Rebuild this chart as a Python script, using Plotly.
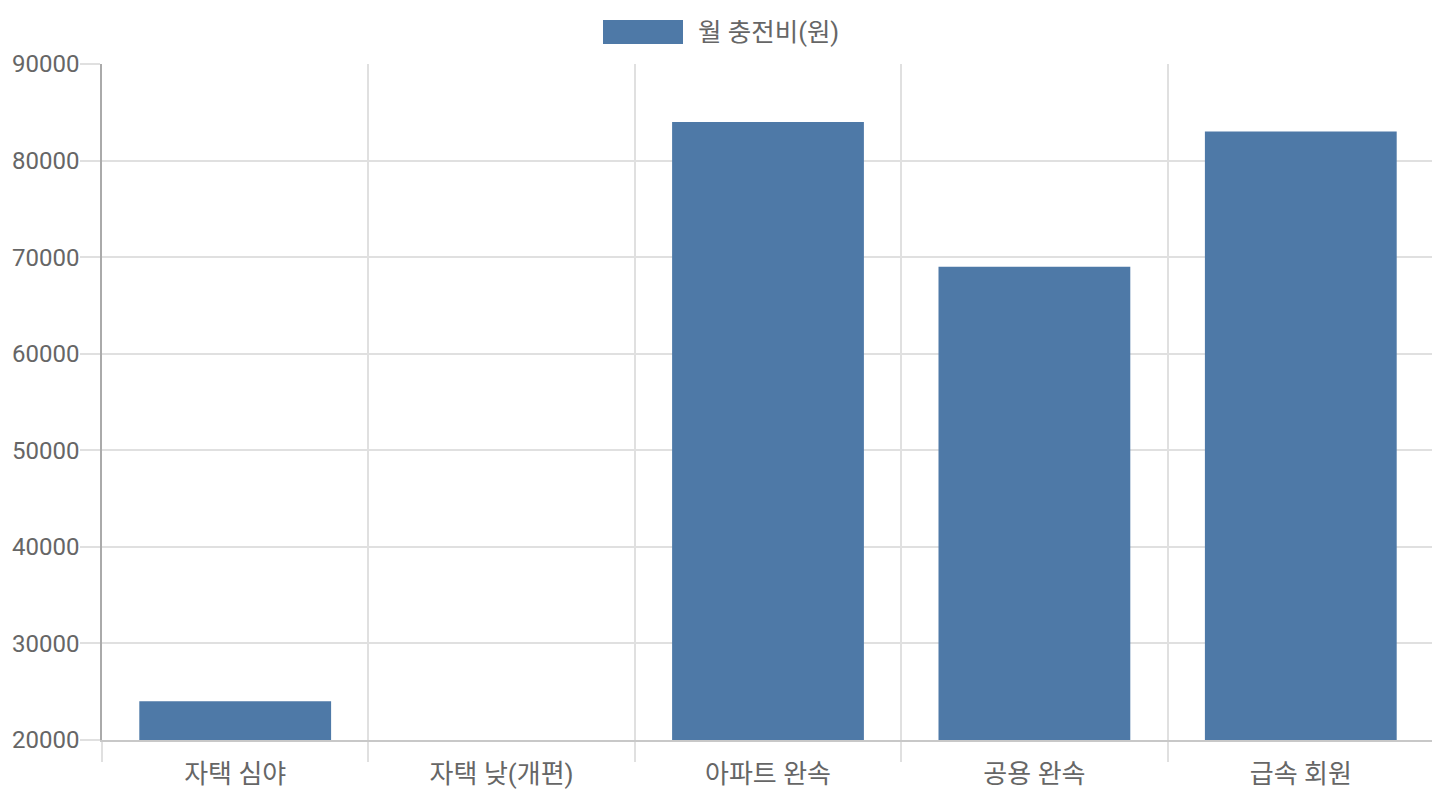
import plotly.graph_objects as go

# monthly charging cost by charging type
categories = ['자택 심야', '자택 낮(개편)', '아파트 완속', '공용 완속', '급속 회원']
monthly_cost = [24000, 20000, 84000, 69000, 83000]
series_name = '월 충전비(원)'

BAR = '#4E79A7'
TXT = '#666666'
GRID = '#e0e0e0'
FONT = 'Roboto, "Noto Sans CJK KR", sans-serif'

# page body has an 8px margin, so the figure is a bit smaller and margins shifted
W, H = 1432, 792
ML, MR, MT, MB = 94, 6, 56, 60
PW, PH = W - ML - MR, H - MT - MB

fig = go.Figure()
fig.add_trace(go.Bar(x=categories, y=monthly_cost, name=series_name,
                     marker=dict(color=BAR, line=dict(width=0)),
                     showlegend=False))

fig.update_layout(
    width=W, height=H,
    margin=dict(l=ML, r=MR, t=MT, b=MB),
    paper_bgcolor='white', plot_bgcolor='white',
    font=dict(family=FONT, size=24, color=TXT),
    bargap=0.28,
    # legend drawn by hand: wide swatch like the original
    shapes=[dict(type='rect', xref='paper', yref='paper',
                 x0=(603 - 102) / PW, x1=(683 - 102) / PW,
                 y0=(740 - 44) / PH, y1=(740 - 20) / PH,
                 fillcolor=BAR, line=dict(width=0))],
    annotations=[dict(text=series_name, xref='paper', yref='paper',
                      x=(696 - 102) / PW, y=(740 - 32) / PH,
                      xanchor='left', yanchor='middle', showarrow=False,
                      font=dict(size=25.5, color=TXT))],
)

fig.update_xaxes(
    type='category', tickson='boundaries', automargin=False,
    showgrid=True, gridcolor=GRID, gridwidth=1.5,
    ticks='outside', ticklen=20, tickcolor=GRID, tickwidth=1.5,
    showline=True, linecolor='#c8c8c8', linewidth=1.5,
    ticklabelstandoff=10,
    tickfont=dict(size=26, color=TXT),
)
fig.update_yaxes(
    range=[20000, 90000], dtick=10000, tickformat='d', automargin=False,
    showgrid=True, gridcolor=GRID, gridwidth=1.5, zeroline=False,
    ticks='outside', ticklen=20, tickcolor=GRID, tickwidth=1.5,
    showline=True, linecolor='#aaaaaa', linewidth=1.5,
    ticklabelstandoff=-4,
    tickfont=dict(size=24, color=TXT),
)

fig.write_html("out.html")
